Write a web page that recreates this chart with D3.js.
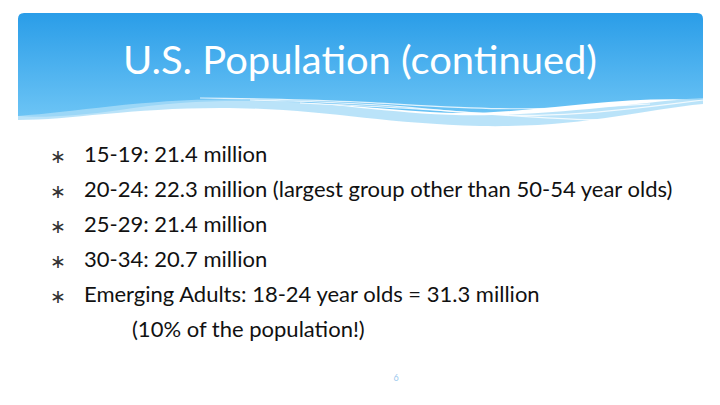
<!DOCTYPE html>
<html><head><meta charset="utf-8">
<script src="https://cdn.jsdelivr.net/npm/d3@7"></script>
<style>body{margin:0;background:#fff}</style>
</head><body>
<svg id="slide" width="720" height="405"></svg>
<script>
const title = "U.S. Population (continued)";
const groups = ["15-19", "20-24", "25-29", "30-34"];
const millions = [21.4, 22.3, 21.4, 20.7];
const notes = ["", " (largest group other than 50-54 year olds)", "", ""];
const extraLines = ["Emerging Adults: 18-24 year olds = 31.3 million"];
const subLine = "(10% of the population!)";
const pageNo = "6";

const svg = d3.select("#slide");
const defs = svg.append("defs");
const grad = defs.append("linearGradient").attr("id", "hdr").attr("x1", 0).attr("y1", 0).attr("x2", 0).attr("y2", 1);
grad.append("stop").attr("offset", "0%").attr("stop-color", "#2a9de8");
grad.append("stop").attr("offset", "100%").attr("stop-color", "#6cc4f5");

// header box with wavy bottom
svg.append("path")
  .attr("d", "M24,13 H697 Q703,13 703,19 V100 C600,95 520,118 430,112 C330,105 230,92 120,110 C80,116 40,118 18,116 V19 Q18,13 24,13 Z")
  .attr("fill", "url(#hdr)");
// light wave bands
svg.append("path")
  .attr("d", "M18,116 C80,112 160,96 260,100 C360,104 420,120 520,114 C600,110 660,100 703,98 V104 C640,110 580,128 480,126 C380,124 320,108 220,108 C130,108 70,120 18,120 Z")
  .attr("fill", "#a9dcf8").attr("opacity", 0.8);
const waves = d3.line().curve(d3.curveBasis);
[[[250,100],[400,104],[530,122],[703,100]], [[300,103],[450,110],[600,124],[703,112]], [[200,98],[350,100],[500,112],[650,104]]]
  .forEach(p => svg.append("path").attr("d", waves(p)).attr("fill", "none").attr("stroke", "#fff").attr("stroke-width", 1.2).attr("opacity", 0.8));

svg.append("text").attr("x", 360).attr("y", 74).attr("text-anchor", "middle")
  .attr("fill", "#fff").style("font-family", "Lato, 'Open Sans', sans-serif").style("font-size", "39px")
  .attr("textLength", 474).attr("lengthAdjust", "spacingAndGlyphs")
  .text(title);

const lines = groups.map((g, i) => `${g}: ${millions[i]} million${notes[i]}`).concat(extraLines);
const y = d3.scaleLinear().domain([0, 5]).range([162, 337]);
const g = svg.append("g").style("font-family", "Lato, 'Open Sans', sans-serif").style("font-size", "22px").attr("fill", "#111");
g.selectAll("text.b").data(lines).join("text").attr("class", "b")
  .attr("x", 50).attr("y", (d, i) => y(i) + 1).attr("fill", "#333").style("font-size", "19px").text("∗");
g.selectAll("text.t").data(lines).join("text").attr("class", "t")
  .attr("x", 84).attr("y", (d, i) => y(i)).text(d => d);
g.append("text").attr("x", 132).attr("y", y(5)).text(subLine);

svg.append("text").attr("x", 396).attr("y", 381).attr("text-anchor", "middle")
  .attr("fill", "#9cc9ee").style("font-family", "Lato, sans-serif").style("font-size", "9px").text(pageNo);
</script>
</body></html>
